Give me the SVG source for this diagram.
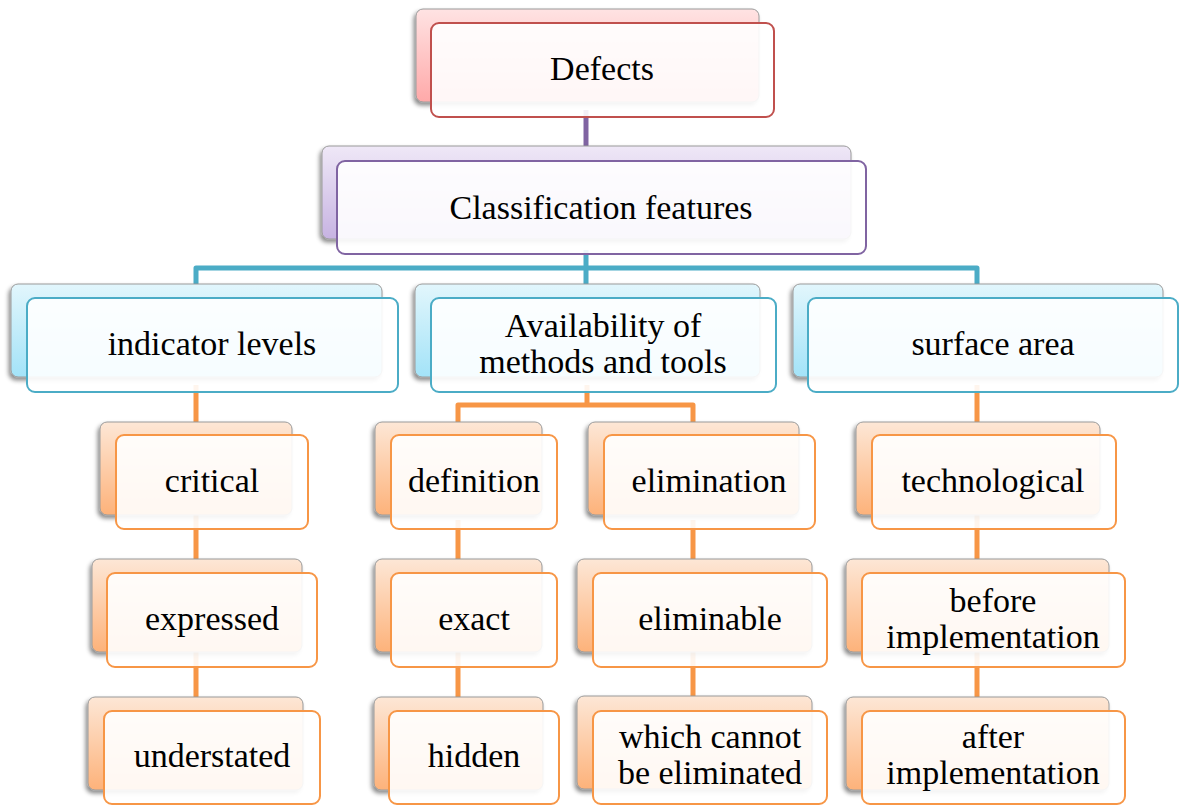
<svg xmlns="http://www.w3.org/2000/svg" width="1179" height="805" viewBox="0 0 1179 805">
<defs>
<linearGradient id="gRed" x1="0" y1="0" x2="0" y2="1"><stop offset="0" stop-color="#ffe3e3"/><stop offset="1" stop-color="#ffa9a9"/></linearGradient>
<linearGradient id="gPur" x1="0" y1="0" x2="0" y2="1"><stop offset="0" stop-color="#efe8f7"/><stop offset="1" stop-color="#c7b3e2"/></linearGradient>
<linearGradient id="gCy" x1="0" y1="0" x2="0" y2="1"><stop offset="0" stop-color="#e2f6fc"/><stop offset="1" stop-color="#a3e3f8"/></linearGradient>
<linearGradient id="gOr" x1="0" y1="0" x2="0" y2="1"><stop offset="0" stop-color="#fde7d6"/><stop offset="1" stop-color="#fdb27a"/></linearGradient>
<filter id="sh" x="-10%" y="-10%" width="120%" height="130%"><feDropShadow dx="-2" dy="3" stdDeviation="2" flood-color="#000" flood-opacity="0.45"/></filter>
</defs>
<style>
.back{stroke:#9a9a9a;stroke-width:1;filter:url(#sh)}
.front{fill:#ffffff;fill-opacity:0.9;stroke-width:2}
.red .back{fill:url(#gRed)} .red .front{stroke:#c0504d}
.pur .back{fill:url(#gPur)} .pur .front{stroke:#8064a2}
.cy .back{fill:url(#gCy)} .cy .front{stroke:#4bacc6}
.or .back{fill:url(#gOr)} .or .front{stroke:#f79646}
text{font-family:"Liberation Serif","Times New Roman",serif;font-size:34px;fill:#000;text-anchor:middle}
.c{fill:none;stroke-width:5;stroke-linejoin:round}
</style>
<g id="connectors">
<path class="c" stroke="#8064a2" d="M586 110 V161"/>
<path class="c" stroke="#4bacc6" d="M586 250 V290 M196 290 V268 H977 V290"/>
<path class="c" stroke="#f79646" d="M196 385 V715"/>
<path class="c" stroke="#f79646" d="M587 385 V405 M458 425 V405 H693 V425"/>
<path class="c" stroke="#f79646" d="M458 520 V715"/>
<path class="c" stroke="#f79646" d="M693 520 V715"/>
<path class="c" stroke="#f79646" d="M977 385 V715"/>
</g>
<g id="n-defects" class="red"><rect class="back" x="416" y="9" width="343" height="93" rx="7"/><rect class="front" x="431" y="23" width="343" height="94" rx="8"/><text x="602" y="80">Defects</text></g>
<g id="n-classification" class="pur"><rect class="back" x="322" y="146" width="529" height="93" rx="7"/><rect class="front" x="337" y="161" width="529" height="93" rx="8"/><text x="601" y="219">Classification features</text></g>
<g id="n-indicator" class="cy"><rect class="back" x="11" y="284" width="371" height="93" rx="7"/><rect class="front" x="27" y="298" width="371" height="94" rx="8"/><text x="212" y="355">indicator levels</text></g>
<g id="n-availability" class="cy"><rect class="back" x="415" y="284" width="345" height="93" rx="7"/><rect class="front" x="431" y="298" width="345" height="94" rx="8"/><text x="603" y="337">Availability of</text><text x="603" y="373">methods and tools</text></g>
<g id="n-surface" class="cy"><rect class="back" x="793" y="284" width="370" height="93" rx="7"/><rect class="front" x="808" y="298" width="370" height="94" rx="8"/><text x="993" y="355">surface area</text></g>
<g id="n-critical" class="or"><rect class="back" x="100" y="422" width="192" height="93" rx="7"/><rect class="front" x="116" y="435" width="192" height="94" rx="8"/><text x="212" y="492">critical</text></g>
<g id="n-definition" class="or"><rect class="back" x="375" y="422" width="167" height="93" rx="7"/><rect class="front" x="391" y="435" width="166" height="94" rx="8"/><text x="474" y="492">definition</text></g>
<g id="n-elimination" class="or"><rect class="back" x="588" y="422" width="211" height="93" rx="7"/><rect class="front" x="604" y="435" width="211" height="94" rx="8"/><text x="709" y="492">elimination</text></g>
<g id="n-technological" class="or"><rect class="back" x="856" y="422" width="244" height="93" rx="7"/><rect class="front" x="872" y="435" width="244" height="94" rx="8"/><text x="993" y="492">technological</text></g>
<g id="n-expressed" class="or"><rect class="back" x="92" y="559" width="210" height="93" rx="7"/><rect class="front" x="107" y="573" width="210" height="94" rx="8"/><text x="212" y="630">expressed</text></g>
<g id="n-exact" class="or"><rect class="back" x="375" y="559" width="167" height="93" rx="7"/><rect class="front" x="391" y="573" width="166" height="94" rx="8"/><text x="474" y="630">exact</text></g>
<g id="n-eliminable" class="or"><rect class="back" x="577" y="559" width="235" height="93" rx="7"/><rect class="front" x="593" y="573" width="234" height="94" rx="8"/><text x="710" y="630">eliminable</text></g>
<g id="n-before" class="or"><rect class="back" x="846" y="559" width="263" height="93" rx="7"/><rect class="front" x="862" y="573" width="263" height="94" rx="8"/><text x="993" y="612">before</text><text x="993" y="648">implementation</text></g>
<g id="n-understated" class="or"><rect class="back" x="88" y="697" width="215" height="93" rx="7"/><rect class="front" x="104" y="711" width="216" height="93" rx="8"/><text x="212" y="767">understated</text></g>
<g id="n-hidden" class="or"><rect class="back" x="374" y="697" width="169" height="93" rx="7"/><rect class="front" x="389" y="711" width="170" height="93" rx="8"/><text x="474" y="767">hidden</text></g>
<g id="n-cannot" class="or"><rect class="back" x="577" y="696" width="235" height="93" rx="7"/><rect class="front" x="593" y="711" width="234" height="93" rx="8"/><text x="710" y="748">which cannot</text><text x="710" y="784">be eliminated</text></g>
<g id="n-after" class="or"><rect class="back" x="846" y="697" width="263" height="93" rx="7"/><rect class="front" x="862" y="711" width="263" height="93" rx="8"/><text x="993" y="748">after</text><text x="993" y="784">implementation</text></g>
</svg>
